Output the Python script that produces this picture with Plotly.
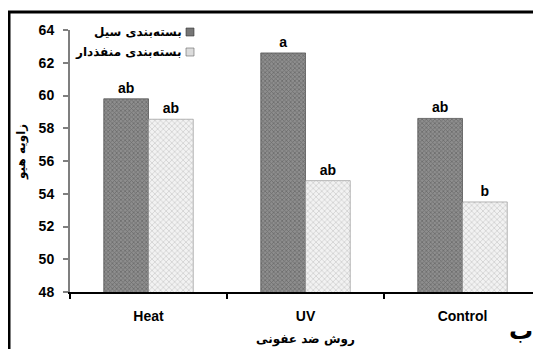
import plotly.graph_objects as go

categories = ["Heat", "UV", "Control"]
series_names = ["بسته‌بندی سیل", "بسته‌بندی منفذدار"]
sealed_values = [59.8, 62.6, 58.6]
porous_values = [58.55, 54.8, 53.5]
sealed_letters = ["ab", "a", "ab"]
porous_letters = ["ab", "ab", "b"]
y_ticks = [48, 50, 52, 54, 56, 58, 60, 62, 64]
y_title = "زاویه هیو"
x_title = "روش ضد عفونی"
panel_label = "ب"

OFF = 8  # default page body margin
W, H = 541, 349
L, R, T, B = 62, 8, 22, 65
PW, PH = W - L - R, H - T - B

def px(x):
    # x in page pixels -> paper
    return (x - OFF - L) / PW

def py(y):
    # y in page pixels -> paper
    return (H - B - (y - OFF)) / PH

tick_font = dict(family="Liberation Sans, Arial", size=14, color="black", weight="bold")
fa_font = dict(family="DejaVu Sans", size=12, color="black", weight="bold")

fig = go.Figure()
fig.add_trace(go.Bar(
    x=categories, y=sealed_values, name=series_names[0],
    text=sealed_letters, textposition="outside", cliponaxis=False,
    textfont=tick_font,
    marker=dict(color="#808080", line=dict(color="#333", width=0.6),
                pattern=dict(shape="x", fgcolor="#4a4a4a", bgcolor="#8e8e8e", size=3, solidity=0.45)),
    showlegend=False,
))
fig.add_trace(go.Bar(
    x=categories, y=porous_values, name=series_names[1],
    text=porous_letters, textposition="outside", cliponaxis=False,
    textfont=tick_font,
    marker=dict(color="white", line=dict(color="#888", width=0.6),
                pattern=dict(shape="x", fgcolor="#a0a0a0", bgcolor="#f2f2f2", size=4, solidity=0.3)),
    showlegend=False,
))

shapes = [
    # outer frame
    dict(type="rect", xref="paper", yref="paper", x0=px(9), x1=px(W + 30), y0=py(H + 30), y1=py(12),
         line=dict(color="black", width=3), fillcolor="rgba(0,0,0,0)", layer="above"),
    # legend swatches
    dict(type="rect", xref="paper", yref="paper", x0=px(186), x1=px(194), y0=py(36), y1=py(28),
         line=dict(color="#333", width=0.6), fillcolor="#767676"),
    dict(type="rect", xref="paper", yref="paper", x0=px(186), x1=px(194), y0=py(56), y1=py(48),
         line=dict(color="#666", width=0.6), fillcolor="#dcdcdc"),
]

annotations = [
    dict(text=series_names[0], xref="paper", yref="paper", x=px(184), y=py(32),
         xanchor="right", yanchor="middle", showarrow=False, font=fa_font),
    dict(text=series_names[1], xref="paper", yref="paper", x=px(184), y=py(52),
         xanchor="right", yanchor="middle", showarrow=False, font=fa_font),
    dict(text=y_title, xref="paper", yref="paper", x=px(21), y=py(152), textangle=-90,
         xanchor="center", yanchor="middle", showarrow=False, font=fa_font),
    dict(text=x_title, xref="paper", yref="paper", x=px(305), y=py(339),
         xanchor="center", yanchor="middle", showarrow=False, font=fa_font),
    dict(text=panel_label, xref="paper", yref="paper", x=px(521), y=py(331),
         xanchor="center", yanchor="middle", showarrow=False,
         font=dict(family="DejaVu Sans", size=24, color="black", weight="bold")),
]

fig.update_layout(
    width=W, height=H,
    margin=dict(l=L, r=R, t=T, b=B, pad=0),
    paper_bgcolor="white", plot_bgcolor="white",
    barmode="group", bargap=0.43, bargroupgap=0,
    shapes=shapes, annotations=annotations,
    font=dict(family="Liberation Sans, Arial", color="black"),
)
fig.update_xaxes(
    showline=True, linecolor="black", linewidth=1.5,
    ticks="outside", tickson="boundaries", ticklen=5, tickcolor="black", tickwidth=1.5,
    tickfont=tick_font, ticklabelstandoff=10, showgrid=False, zeroline=False,
)
fig.update_yaxes(
    range=[48, 64], tickvals=y_ticks, showline=True, linecolor="#7f7f7f", linewidth=2,
    ticks="outside", ticklen=5, tickcolor="#7f7f7f", tickwidth=1.5,
    tickfont=tick_font, ticklabelstandoff=6, showgrid=False, zeroline=False,
)

fig.write_html("out.html")
